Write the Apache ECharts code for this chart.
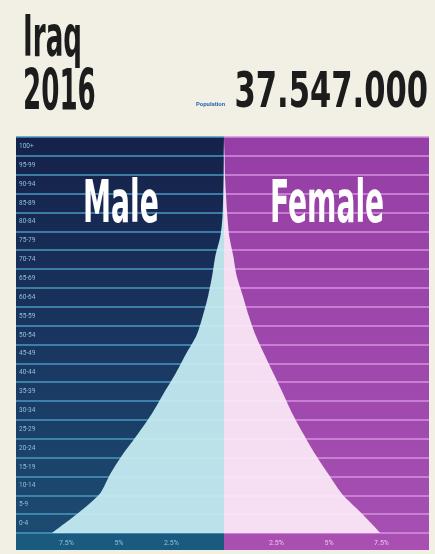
<!DOCTYPE html>
<html>
<head>
<meta charset="utf-8">
<script src="https://cdn.jsdelivr.net/npm/echarts@6/dist/echarts.min.js"></script>
<style>
html,body{margin:0;padding:0;background:#f2f0e4;}
#chart{width:435px;height:554px;}
</style>
</head>
<body>
<div id="chart"></div>
<script>
// Age groups (bottom to top)
const ageGroups = ['0-4','5-9','10-14','15-19','20-24','25-29','30-34','35-39','40-44','45-49',
  '50-54','55-59','60-64','65-69','70-74','75-79','80-84','85-89','90-94','95-99','100+'];
// Share of total population, %
const maleValues   = [8.2, 6.95, 5.9, 5.4, 4.8, 4.1, 3.45, 2.9, 2.33, 1.83, 1.3, 1.0, 0.75, 0.56, 0.41, 0.17, 0.07, 0.04, 0.02, 0.01, 0];
const femaleValues = [7.45, 6.55, 5.6, 4.95, 4.33, 3.78, 3.27, 2.83, 2.38, 1.93, 1.5, 1.17, 0.89, 0.6, 0.44, 0.25, 0.16, 0.1, 0.05, 0.03, 0.01];
// Bottom tick labels
const tickValues = [2.5, 5, 7.5];
const tickLabels = ['2.5%', '5%', '7.5%'];

const titleLines = ['Iraq', '2016'];
const populationLabel = 'Population';
const populationText = '37.547.000';
const sideLabels = ['Male', 'Female'];

function fmt(v) {
  const i = tickValues.indexOf(v);
  return i >= 0 ? tickLabels[i] : '';
}

const chart = echarts.init(document.getElementById('chart'), null, {renderer: 'canvas'});
const condensed = '"DejaVu Sans Condensed", "Liberation Sans Narrow", sans-serif';

const option = {
  backgroundColor: '#f2f0e4',
  animation: false,
  grid: [
    {left: 16, top: 137, width: 208, height: 396},
    {left: 224, top: 137, width: 205, height: 396}
  ],
  xAxis: [
    {gridIndex: 0, type: 'value', inverse: true, min: 0, max: 9.9, interval: 2.5,
      splitLine: {show: false}, axisLine: {show: false}, axisTick: {show: false},
      axisLabel: {formatter: fmt, color: '#8cc4de', fontSize: 7, margin: 7, fontFamily: 'Roboto'}},
    {gridIndex: 1, type: 'value', min: 0, max: 9.76, interval: 2.5,
      splitLine: {show: false}, axisLine: {show: false}, axisTick: {show: false},
      axisLabel: {formatter: fmt, color: '#ecc3f0', fontSize: 7, margin: 7, fontFamily: 'Roboto'}}
  ],
  yAxis: [
    {gridIndex: 0, type: 'category', data: ageGroups, boundaryGap: true,
      axisLine: {show: false}, axisTick: {show: false},
      axisLabel: {inside: true, interval: 0, color: '#8cc2dc', fontSize: 6.5, margin: 3, fontFamily: 'Roboto'},
      splitLine: {show: true, interval: 0, lineStyle: {color: '#4a99bf', width: 1.6}}},
    {gridIndex: 1, type: 'category', data: ageGroups, boundaryGap: true,
      axisLine: {show: false}, axisTick: {show: false}, axisLabel: {show: false},
      splitLine: {show: true, interval: 0, lineStyle: {color: '#d690e1', width: 1.6}}},
    {gridIndex: 0, type: 'category', data: ageGroups, boundaryGap: false, show: false},
    {gridIndex: 1, type: 'category', data: ageGroups, boundaryGap: false, show: false}
  ],
  series: [
    {name: sideLabels[0], type: 'line', xAxisIndex: 0, yAxisIndex: 2, data: maleValues,
      smooth: 0.25, symbol: 'none', lineStyle: {width: 0},
      areaStyle: {color: '#c7eef3', opacity: 0.93}, z: 3},
    {name: sideLabels[1], type: 'line', xAxisIndex: 1, yAxisIndex: 3, data: femaleValues,
      smooth: 0.25, symbol: 'none', lineStyle: {width: 0},
      areaStyle: {color: '#fce9f7', opacity: 0.93}, z: 3}
  ],
  graphic: {
    elements: [
      {type: 'rect', z: -10, shape: {x: 16, y: 137, width: 208, height: 396},
        style: {fill: new echarts.graphic.LinearGradient(0, 0, 0, 1, [
          {offset: 0, color: '#15214a'}, {offset: 0.5, color: '#19355f'}, {offset: 1, color: '#1c4b72'}])}},
      {type: 'rect', z: -10, shape: {x: 224, y: 137, width: 205, height: 396},
        style: {fill: new echarts.graphic.LinearGradient(0, 0, 0, 1, [
          {offset: 0, color: '#953ea5'}, {offset: 1, color: '#a64fb2'}])}},
      {type: 'rect', z: -10, shape: {x: 16, y: 533, width: 208, height: 17}, style: {fill: '#1a5a7f'}},
      {type: 'rect', z: -10, shape: {x: 224, y: 533, width: 205, height: 17}, style: {fill: '#a94fb1'}},
      {type: 'text', z: 100, x: 23, y: 41, scaleX: 0.51,
        style: {text: titleLines[0], font: 'bold 57px ' + condensed, fill: '#1c1c1c', textVerticalAlign: 'middle'}},
      {type: 'text', z: 100, x: 23, y: 95, scaleX: 0.51,
        style: {text: titleLines[1], font: 'bold 57px ' + condensed, fill: '#1c1c1c', textVerticalAlign: 'middle'}},
      {type: 'text', z: 100, x: 428, y: 94, scaleX: 0.68,
        style: {text: populationText, font: 'bold 50px ' + condensed, fill: '#1c1c1c', textAlign: 'right', textVerticalAlign: 'middle'}},
      {type: 'text', z: 100, x: 196, y: 104,
        style: {text: populationLabel, font: 'bold 6px Roboto', fill: '#2d68b4', textVerticalAlign: 'middle'}},
      {type: 'text', z: 100, x: 83, y: 207, scaleX: 0.54,
        style: {text: sideLabels[0], font: 'bold 58px ' + condensed, fill: '#ffffff', textVerticalAlign: 'middle'}},
      {type: 'text', z: 100, x: 270, y: 207, scaleX: 0.54,
        style: {text: sideLabels[1], font: 'bold 58px ' + condensed, fill: '#ffffff', textVerticalAlign: 'middle'}}
    ]
  }
};
chart.setOption(option);
</script>
</body>
</html>
